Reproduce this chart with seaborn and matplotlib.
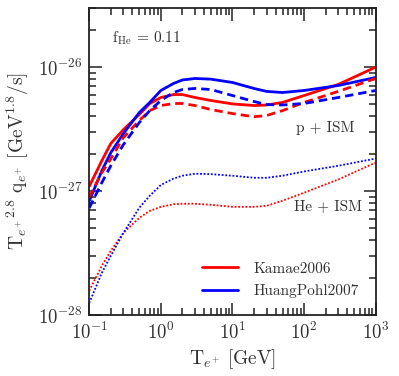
import numpy as np
import pandas as pd
import matplotlib
matplotlib.use("Agg")
import matplotlib.pyplot as plt
from matplotlib.lines import Line2D
from matplotlib.ticker import LogLocator, NullFormatter
import seaborn as sns

# positron kinetic energy grid [GeV]
energy = [0.1, 0.15, 0.2, 0.3, 0.5, 0.7, 1, 1.5, 2, 3, 5, 10, 20, 30, 50, 100, 300, 1000]

# T^2.8 q  [GeV^1.8/s]
kamae_p = [1.09e-27, 1.76e-27, 2.42e-27, 3.13e-27, 4.15e-27, 5.08e-27, 5.69e-27, 6.01e-27, 6.01e-27,
           5.69e-27, 5.38e-27, 5.05e-27, 4.9e-27, 4.95e-27, 5.19e-27, 5.9e-27, 7.25e-27, 1.0e-26]
huang_p = [8.3e-28, 1.46e-27, 2.04e-27, 2.91e-27, 4.3e-27, 5.19e-27, 6.48e-27, 7.38e-27, 7.88e-27,
           8.1e-27, 8.0e-27, 7.52e-27, 6.73e-27, 6.37e-27, 6.24e-27, 6.48e-27, 7.11e-27, 8.25e-27]
kamae_p_alt = [8.9e-28, 1.41e-27, 1.82e-27, 2.7e-27, 3.71e-27, 4.46e-27, 4.9e-27, 5.09e-27, 5.09e-27,
               4.9e-27, 4.55e-27, 4.22e-27, 3.98e-27, 4.07e-27, 4.46e-27, 5.19e-27, 6.37e-27, 8.1e-27]
huang_p_alt = [7.3e-28, 1.17e-27, 1.6e-27, 2.37e-27, 3.57e-27, 4.46e-27, 5.38e-27, 6.24e-27, 6.6e-27,
               6.73e-27, 6.6e-27, 5.9e-27, 5.28e-27, 4.99e-27, 4.95e-27, 5.09e-27, 5.69e-27, 6.48e-27]
kamae_he = [1.57e-28, 2.49e-28, 3.3e-28, 4.6e-28, 6.08e-28, 6.92e-28, 7.46e-28, 7.83e-28, 7.9e-28,
            7.9e-28, 7.75e-28, 7.46e-28, 7.46e-28, 7.6e-28, 8.36e-28, 9.7e-28, 1.24e-27, 1.7e-27]
huang_he = [1.25e-28, 2.19e-28, 3.0e-28, 4.6e-28, 7.33e-28, 9.16e-28, 1.12e-27, 1.26e-27, 1.33e-27,
            1.38e-27, 1.37e-27, 1.33e-27, 1.28e-27, 1.28e-27, 1.33e-27, 1.44e-27, 1.6e-27, 1.83e-27]

series = [
    (kamae_p, "red", "-", 2.0),
    (huang_p, "blue", "-", 2.0),
    (kamae_p_alt, "red", (0, (3, 1.8)), 2.0),
    (huang_p_alt, "blue", (0, (3, 1.8)), 2.0),
    (kamae_he, "red", (0, (1, 1)), 1.3),
    (huang_he, "blue", (0, (1, 1)), 1.3),
]

sns.set_style("ticks")
plt.rcParams["font.family"] = "serif"
plt.rcParams["font.serif"] = ["cmr10", "DejaVu Serif"]
plt.rcParams["mathtext.fontset"] = "cm"
plt.rcParams["axes.unicode_minus"] = False
plt.rcParams["axes.formatter.use_mathtext"] = True

txt = "#333333"
fig = plt.figure(figsize=(3.99, 3.76), dpi=100)
ax = fig.add_axes([0.2236, 0.1622, 0.7180, 0.8165])

for vals, color, ls, lw in series:
    df = pd.DataFrame({"E": energy, "q": vals})
    sns.lineplot(data=df, x="E", y="q", ax=ax, color=color, linewidth=lw, linestyle=ls)

ax.set_xscale("log")
ax.set_yscale("log")
ax.set_xlim(0.1, 1000)
ax.set_ylim(1e-28, 3e-26)

ax.xaxis.set_major_locator(LogLocator(base=10, numticks=10))
ax.xaxis.set_minor_locator(LogLocator(base=10, subs=np.arange(2, 10), numticks=20))
ax.xaxis.set_minor_formatter(NullFormatter())
ax.yaxis.set_major_locator(LogLocator(base=10, numticks=10))
ax.yaxis.set_minor_locator(LogLocator(base=10, subs=np.arange(2, 10), numticks=20))
ax.yaxis.set_minor_formatter(NullFormatter())

ax.tick_params(which="both", direction="in", top=True, right=True, labelsize=13.5,
               width=1.1, colors="#222222", labelcolor=txt)
ax.tick_params(which="major", length=9, pad=5)
ax.tick_params(which="minor", length=5)
for sp in ax.spines.values():
    sp.set_linewidth(1.3)
    sp.set_color("#222222")

ax.set_xlabel(r"T$_{e^{+}}$ [GeV]", fontsize=14, labelpad=3, color=txt)
ax.set_ylabel(r"T$_{e^{+}}$$^{2.8}$ q$_{e^{+}}$ [GeV$^{1.8}$/s]", fontsize=14, labelpad=5, color=txt)

ax.text(0.207, 1.7e-26, r"f$_{\rm He}$ = 0.11", fontsize=11, color=txt, va="center")
ax.text(200, 3.2e-27, "p + ISM", fontsize=11, color=txt, ha="center", va="center")
ax.text(215, 7.6e-28, "He + ISM", fontsize=11, color=txt, ha="center", va="center")

handles = [Line2D([], [], color="red", lw=2), Line2D([], [], color="blue", lw=2)]
ax.legend(handles, ["Kamae2006", "HuangPohl2007"], loc="lower right", frameon=False,
          fontsize=11, handlelength=2.4, handletextpad=1.0, borderaxespad=0.7,
          labelspacing=0.55, labelcolor=txt)

fig.savefig("out.png", dpi=100)
